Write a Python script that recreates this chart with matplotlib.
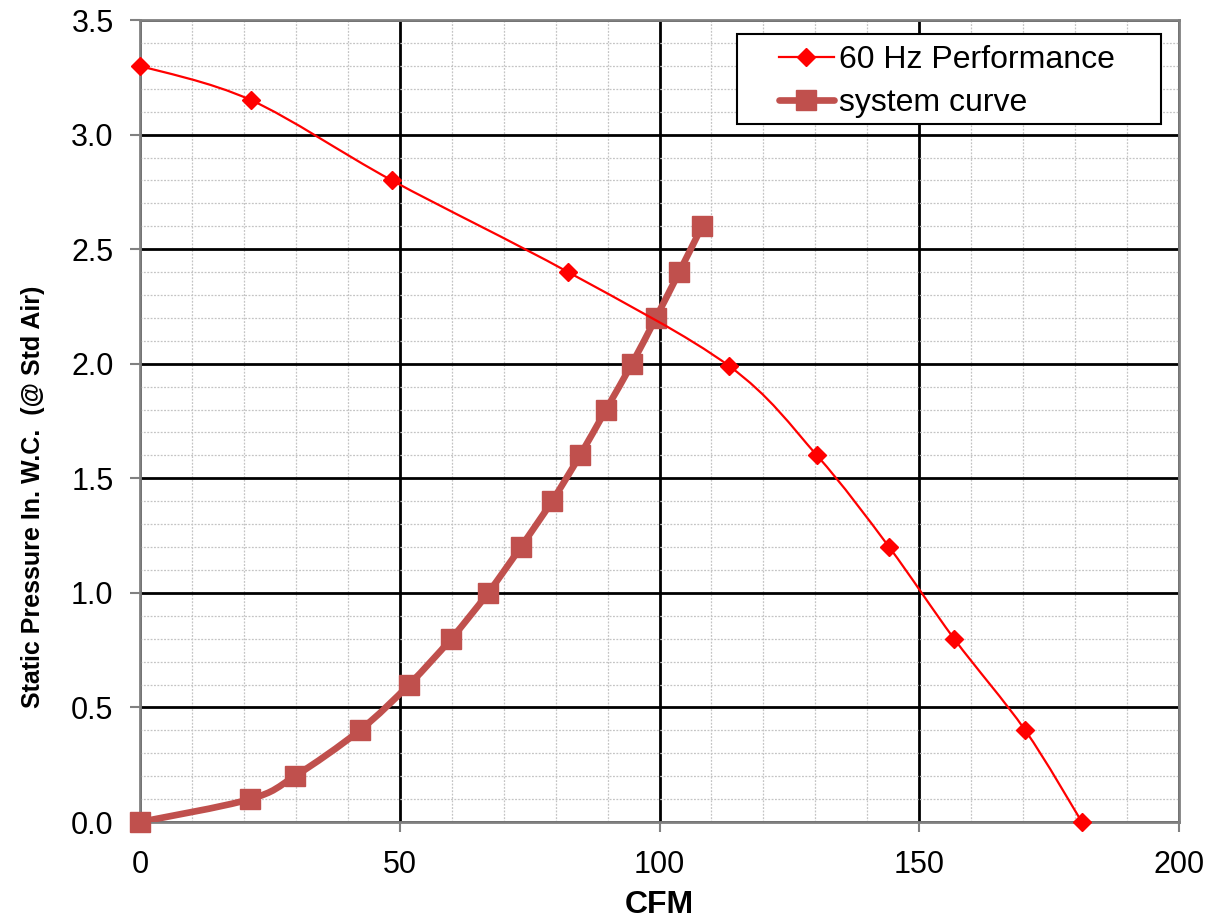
import numpy as np
import matplotlib
matplotlib.use("Agg")
import matplotlib.pyplot as plt
from matplotlib.path import Path
from matplotlib.patches import PathPatch, Rectangle
from matplotlib.lines import Line2D

plt.rcParams['font.family'] = ['Liberation Sans', 'DejaVu Sans']

# fan curve (60 Hz)
fanCfm = [0, 21.4, 48.5, 82.4, 113.4, 130.3, 144.2, 156.7, 170.4, 181.3]
fanPress = [3.30, 3.15, 2.80, 2.40, 1.99, 1.60, 1.20, 0.80, 0.40, 0.0]

# system curve
sysCfm = [0, 21.2, 29.8, 42.3, 51.8, 59.9, 67.0, 73.3, 79.3, 84.7, 89.7,
          94.7, 99.3, 103.8, 108.2]
sysPress = [0.0, 0.1, 0.2, 0.4, 0.6, 0.8, 1.0, 1.2, 1.4, 1.6, 1.8,
            2.0, 2.2, 2.4, 2.6]

fanLabel = "60 Hz Performance"
sysLabel = "system curve"
fanColor = "#FF0000"
sysColor = "#C0504D"


def smoothPath(xs, ys):
    # excel-like smoothed line: cubic bezier through every point
    p = np.column_stack([xs, ys]).astype(float)
    n = len(p)
    verts = [p[0]]
    codes = [Path.MOVETO]
    for i in range(n - 1):
        p0 = p[i - 1] if i > 0 else p[i]
        p1 = p[i]
        p2 = p[i + 1]
        p3 = p[i + 2] if i + 2 < n else p[i + 1]
        c1 = p1 + (p2 - p0) / 6.0
        c2 = p2 - (p3 - p1) / 6.0
        verts += [c1, c2, p2]
        codes += [Path.CURVE4] * 3
    return Path(verts, codes)


def main():
    fig = plt.figure(figsize=(12.09, 9.23), dpi=100)
    ax = fig.add_axes([0.1158, 0.1094, 0.8594, 0.8689])

    ax.add_patch(PathPatch(smoothPath(sysCfm, sysPress), fill=False,
                           edgecolor=sysColor, lw=4.8, capstyle='round',
                           joinstyle='round', zorder=3))
    ax.plot(sysCfm, sysPress, ls='none', marker='s', ms=14,
            color=sysColor, zorder=4, clip_on=False)

    ax.add_patch(PathPatch(smoothPath(fanCfm, fanPress), fill=False,
                           edgecolor=fanColor, lw=1.6, zorder=5))
    ax.plot(fanCfm, fanPress, ls='none', marker='D', ms=9,
            color=fanColor, zorder=6, clip_on=False)

    ax.set_xlim(0, 200)
    ax.set_ylim(0, 3.5)
    ax.set_xticks(np.arange(0, 201, 50))
    ax.set_yticks(np.arange(0, 3.51, 0.5))
    ax.set_yticklabels([f"{v:.1f}" for v in np.arange(0, 3.51, 0.5)])
    ax.set_xticks(np.arange(0, 201, 10), minor=True)
    ax.set_yticks(np.arange(0, 3.51, 0.1), minor=True)

    ax.grid(which='minor', color='#C4C4C4', ls=(0, (1.5, 1.2)), lw=0.9)
    ax.grid(which='major', color='black', ls='-', lw=2.0)
    ax.set_axisbelow(True)

    ax.tick_params(which='major', labelsize=22, length=7, width=1.5,
                   color='#808080')
    ax.tick_params(axis='x', which='major', pad=13)
    ax.tick_params(axis='y', which='major', pad=12)
    ax.tick_params(which='minor', length=0)
    for s in ax.spines.values():
        s.set_color('#808080')
        s.set_linewidth(2)

    ax.set_xlabel("CFM", fontsize=23, fontweight='bold', labelpad=7)
    ax.set_ylabel("Static Pressure In. W.C.  (@ Std Air)", fontsize=18,
                  fontweight='bold')
    ax.yaxis.set_label_coords(-0.0914, 0.406)

    # legend frame is wider than its content, so draw it separately
    ax.add_patch(Rectangle((0.5746, 0.870), 0.4081, 0.1125,
                           transform=ax.transAxes, facecolor='white',
                           edgecolor='black', lw=1.5, zorder=8,
                           clip_on=False))
    handles = [
        Line2D([], [], color=fanColor, lw=1.6, marker='D', ms=9),
        Line2D([], [], color=sysColor, lw=4.8, marker='s', ms=14,
               solid_capstyle='round'),
    ]
    leg = ax.legend(handles, [fanLabel, sysLabel], loc='center left',
                    bbox_to_anchor=(0.615, 0.923), fontsize=23,
                    frameon=False, borderpad=0, handlelength=1.72,
                    handletextpad=0.15, labelspacing=0.42, borderaxespad=0)
    leg.set_zorder(9)

    fig.savefig("out.png", dpi=100)


if __name__ == "__main__":
    main()
